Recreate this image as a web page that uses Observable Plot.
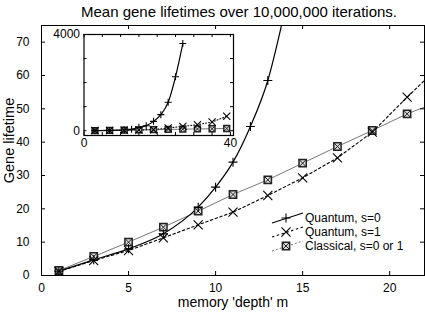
<!DOCTYPE html>
<html><head><meta charset="utf-8">
<script src="https://cdn.jsdelivr.net/npm/d3@7"></script>
<script src="https://cdn.jsdelivr.net/npm/@observablehq/plot@0.6"></script>
<style>
body{margin:0;background:#fff;}
#wrap{position:relative;width:425px;height:313px;}
#inset{position:absolute;left:40px;top:25px;}
svg{font-family:"Liberation Sans",Arial,Helvetica,sans-serif;}
</style></head><body><div id="wrap"></div>
<script>
// ---- text ----
const titleText = "Mean gene lifetimes over 10,000,000 iterations.";
const xLabel = "memory 'depth' m";
const yLabel = "Gene lifetime";
const seriesNames = ["Quantum, s=0", "Quantum, s=1", "Classical, s=0 or 1"];

// ---- main panel data ----
const q0X = [1, 3, 5, 7, 9, 10, 11, 12, 13, 14];
const q0Y = [1.3, 4.7, 8.0, 12.5, 20.5, 26.5, 34.0, 44.7, 58.5, 80];
const q1X = [1, 3, 5, 7, 9, 11, 13, 15, 17, 19, 21, 23];
const q1Y = [1.2, 4.5, 7.5, 11.3, 15.2, 19.0, 24.0, 29.3, 35.3, 43.0, 53.5, 63.5];
const clX = [1, 3, 5, 7, 9, 11, 13, 15, 17, 19, 21, 23];
const clY = [1.5, 5.7, 10.0, 14.5, 19.3, 24.3, 28.7, 33.7, 38.7, 43.5, 48.5, 52.5];
const xTicks = [0, 5, 10, 15, 20];
const yTicks = [0, 10, 20, 30, 40, 50, 60, 70];

// ---- inset data ----
const iq0X = [3, 7, 11, 13, 15, 17, 19, 21, 23, 25, 27];
const iq0Y = [4.7, 12.5, 34, 58.5, 138, 208, 388, 667, 1180, 2240, 3625];
const iq1X = [3, 7, 11, 15, 19, 23, 27, 31, 35, 39];
const iq1Y = [4.5, 11.3, 19, 29.3, 43, 112, 180, 250, 360, 600];
const iclX = [3, 7, 11, 15, 19, 23, 27, 31, 35, 39];
const iclY = [5.7, 14.5, 24.3, 33.7, 43.5, 53, 62, 72, 82, 92];
const ixTicks = [0, 5, 10, 15, 20, 25, 30, 35, 40];
const ixLabels = [0, 40];
const iyTicks = [0, 1000, 2000, 3000, 4000];
const iyLabels = [0, 4000];

const zip = (xs, ys) => xs.map((x, i) => ({x, y: ys[i]}));
const q0 = zip(q0X, q0Y), q1 = zip(q1X, q1Y), cl = zip(clX, clY);
const iq0 = zip(iq0X, iq0Y), iq1 = zip(iq1X, iq1Y), icl = zip(iclX, iclY);

const FONT = '"Liberation Sans",Arial,Helvetica,sans-serif';
const GRAY = "#777";
// marker radii (Plot r)
const R_PLUS = 3.0, R_TIMES = 4.2, R_SQ = 4.1, R_SQX = 3.4;

function seriesMarks(d0, d1, dc, s, dash1) {
  return [
    Plot.line(dc, {x: "x", y: "y", stroke: GRAY, strokeWidth: 1, clip: true}),
    Plot.line(d1, {x: "x", y: "y", stroke: "black", strokeWidth: 1.1, strokeDasharray: dash1, clip: true}),
    Plot.line(d0, {x: "x", y: "y", stroke: "black", strokeWidth: 1.2, curve: "monotone-x", clip: true}),
    Plot.dot(dc, {x: "x", y: "y", symbol: "square", r: R_SQ * s, stroke: "#222", strokeWidth: 1.5, fill: "#ddd", clip: true}),
    Plot.dot(dc, {x: "x", y: "y", symbol: "times", r: R_SQX * s, stroke: "#222", strokeWidth: 1, clip: true}),
    Plot.dot(d1, {x: "x", y: "y", symbol: "times", r: R_TIMES * s, stroke: "black", strokeWidth: 1.1, clip: true}),
    Plot.dot(d0, {x: "x", y: "y", symbol: "plus", r: R_PLUS * s, stroke: "black", strokeWidth: 1.1, clip: true})
  ];
}

const W = 425, H = 313, mL = 41, mR = 1, mT = 25, mB = 38;
const fw = W - mL - mR, fh = H - mT - mB, tk = 4;

const main = Plot.plot({
  width: W, height: H, marginLeft: mL, marginRight: mR, marginTop: mT, marginBottom: mB,
  style: {fontFamily: FONT, fontSize: "12px", background: "white", color: "black"},
  x: {domain: [0, 22]},
  y: {domain: [0, 75]},
  marks: [
    ...seriesMarks(q0, q1, cl, 1, "2.5,2.5"),
    Plot.tickX(xTicks, {x: d => d, insetTop: fh - tk, stroke: "black"}),
    Plot.tickX(xTicks, {x: d => d, insetBottom: fh - tk, stroke: "black"}),
    Plot.tickY(yTicks, {y: d => d, insetRight: fw - tk, stroke: "black"}),
    Plot.tickY(yTicks, {y: d => d, insetLeft: fw - tk, stroke: "black"}),
    Plot.axisX(xTicks, {tickSize: 0, tickPadding: 8, label: null, fontSize: 12}),
    Plot.axisY(yTicks, {tickSize: 0, tickPadding: 12, label: null, fontSize: 12}),
    Plot.frame({stroke: "black"}),
    Plot.text([titleText], {frameAnchor: "top", textAnchor: "middle", lineAnchor: "middle", dx: 6, dy: -13, fontSize: 15}),
    Plot.text([xLabel], {frameAnchor: "bottom", textAnchor: "middle", lineAnchor: "middle", dy: 27, fontSize: 14}),
    Plot.text([yLabel], {frameAnchor: "left", textAnchor: "middle", lineAnchor: "middle", rotate: -90, dx: -32, dy: -10, fontSize: 14.5})
  ]
});

// legend (drawn into the main svg)
const lg = d3.select(main).append("g").attr("font-family", FONT).attr("font-size", 12)
  .attr("text-anchor", "start");
const rows = [
  {y: 218, dash: null, stroke: "black"},
  {y: 232, dash: "2.5,2.5", stroke: "black"},
  {y: 246, dash: "2,2", stroke: GRAY}
];
const pi = Math.PI;
rows.forEach((r, i) => {
  const g = lg.append("g");
  g.append("line").attr("x1", 272).attr("y1", r.y + 5).attr("x2", 303).attr("y2", r.y - 5)
    .attr("stroke", r.stroke).attr("stroke-width", i === 2 ? 1 : 1.1)
    .attr("stroke-dasharray", r.dash);
  const sym = (type, size, fill, sw, stroke) =>
    g.append("path").attr("transform", `translate(286,${r.y})`)
      .attr("d", d3.symbol(type, size)()).attr("fill", fill)
      .attr("stroke", stroke).attr("stroke-width", sw);
  if (i === 0) sym(d3.symbolPlus, pi * R_PLUS * R_PLUS, "none", 1.1, "black");
  if (i === 1) sym(d3.symbolTimes, pi * R_TIMES * R_TIMES, "none", 1.1, "black");
  if (i === 2) {
    sym(d3.symbolSquare, pi * R_SQ * R_SQ, "#ddd", 1.5, "#222");
    sym(d3.symbolTimes, pi * R_SQX * R_SQX, "none", 1, "#222");
  }
  g.append("text").attr("x", 305).attr("y", r.y).attr("dy", "0.35em").text(seriesNames[i]);
});

// ---- inset ----
const iW = 200, iH = 125, imL = 43.5, imR = 7, imT = 9, imB = 15;
const ifw = iW - imL - imR, ifh = iH - imT - imB, itk = 3;
const inset = Plot.plot({
  width: iW, height: iH, marginLeft: imL, marginRight: imR, marginTop: imT, marginBottom: imB,
  style: {fontFamily: FONT, fontSize: "12px", background: "transparent", color: "black", overflow: "visible"},
  x: {domain: [0, 40.85]},
  y: {domain: [-200, 4000]},
  marks: [
    Plot.frame({fill: "white", stroke: null}),
    ...seriesMarks(iq0, iq1, icl, 0.8, "1,2"),
    Plot.tickX(ixTicks, {x: d => d, insetTop: ifh - itk, stroke: "black"}),
    Plot.tickX(ixTicks, {x: d => d, insetBottom: ifh - itk, stroke: "black"}),
    Plot.tickY(iyTicks, {y: d => d, insetRight: ifw - itk, stroke: "black"}),
    Plot.tickY(iyTicks, {y: d => d, insetLeft: ifw - itk, stroke: "black"}),
    Plot.axisX(ixLabels, {tickSize: 0, tickPadding: 2.5, label: null, fontSize: 12, tickFormat: d => String(d)}),
    Plot.axisY(iyLabels, {tickSize: 0, tickPadding: 4, label: null, fontSize: 12, tickFormat: d => String(d)}),
    Plot.frame({stroke: "black", strokeWidth: 1.2})
  ]
});
inset.id = "inset";

const wrap = document.getElementById("wrap");
wrap.appendChild(main);
wrap.appendChild(inset);
</script>
</body></html>
